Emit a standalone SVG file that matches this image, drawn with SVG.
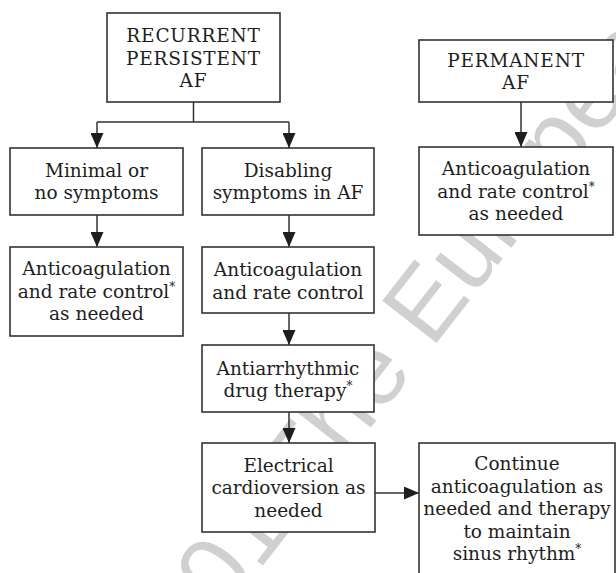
<svg xmlns="http://www.w3.org/2000/svg" width="616" height="573" viewBox="0 0 616 573">
<style>
.box{fill:#fff;stroke:#333;stroke-width:1.6}
.t{font-family:"DejaVu Serif","Liberation Serif",serif;font-size:18.5px;fill:#1e1e1e;text-anchor:middle}
.cap{letter-spacing:0.8px}
.sup{font-size:12px}
.ln{fill:none;stroke:#333;stroke-width:1.5}
.wm{font-family:"Liberation Sans",Arial,sans-serif;font-size:100px;fill:#d0d0d0}
</style>
<defs>
<marker id="ah" viewBox="0 0 15 13" refX="15" refY="6.5" markerWidth="15" markerHeight="13" markerUnits="userSpaceOnUse" orient="auto">
<path d="M0,0 L15,6.5 L0,13 Z" fill="#1e1e1e"/>
</marker>
</defs>
<rect width="616" height="573" fill="#fff"/>
<text class="wm" transform="translate(93,783) rotate(-52)">© 2001 The European</text>
<g id="connectors">
<path class="ln" d="M193.5,102 V122 M97,122 H289"/>
<path class="ln" d="M97,122 V148" marker-end="url(#ah)"/>
<path class="ln" d="M289,122 V148" marker-end="url(#ah)"/>
<path class="ln" d="M97,215 V247" marker-end="url(#ah)"/>
<path class="ln" d="M289,215 V247" marker-end="url(#ah)"/>
<path class="ln" d="M289,313 V345" marker-end="url(#ah)"/>
<path class="ln" d="M289,412 V443" marker-end="url(#ah)"/>
<path class="ln" d="M375,493 H419" marker-end="url(#ah)"/>
<path class="ln" d="M521,102 V147" marker-end="url(#ah)"/>
</g>
<g id="recurrent">
<rect class="box" x="107" y="13" width="173" height="89"/>
<text class="t cap" x="193.5" y="42">RECURRENT</text>
<text class="t cap" x="193.5" y="64.5">PERSISTENT</text>
<text class="t cap" x="193.5" y="87">AF</text>
</g>
<g id="permanent">
<rect class="box" x="419" y="40" width="194" height="62"/>
<text class="t cap" x="516" y="66.5">PERMANENT</text>
<text class="t cap" x="516" y="89">AF</text>
</g>
<g id="minimal">
<rect class="box" x="10" y="148" width="173" height="67"/>
<text class="t" x="96.5" y="176.5">Minimal or</text>
<text class="t" x="96.5" y="199">no symptoms</text>
</g>
<g id="disabling">
<rect class="box" x="202" y="148" width="172" height="67"/>
<text class="t" x="288" y="176.5">Disabling</text>
<text class="t" x="288" y="199">symptoms in AF</text>
</g>
<g id="anticoag-left">
<rect class="box" x="10" y="247" width="173" height="89"/>
<text class="t" x="96.5" y="275">Anticoagulation</text>
<text class="t" x="96.5" y="297.5">and rate control<tspan class="sup" dy="-7">*</tspan></text>
<text class="t" x="96.5" y="320">as needed</text>
</g>
<g id="anticoag-right">
<rect class="box" x="419" y="147" width="194" height="88"/>
<text class="t" x="516" y="175">Anticoagulation</text>
<text class="t" x="516" y="197.5">and rate control<tspan class="sup" dy="-7">*</tspan></text>
<text class="t" x="516" y="220">as needed</text>
</g>
<g id="anticoag-mid">
<rect class="box" x="202" y="247" width="172" height="66"/>
<text class="t" x="288" y="276">Anticoagulation</text>
<text class="t" x="288" y="298.5">and rate control</text>
</g>
<g id="antiarrhythmic">
<rect class="box" x="202" y="345" width="172" height="67"/>
<text class="t" x="288" y="374.5">Antiarrhythmic</text>
<text class="t" x="288" y="397">drug therapy<tspan class="sup" dy="-7">*</tspan></text>
</g>
<g id="cardioversion">
<rect class="box" x="202" y="443" width="173" height="89"/>
<text class="t" x="288.5" y="471.5">Electrical</text>
<text class="t" x="288.5" y="494">cardioversion as</text>
<text class="t" x="288.5" y="516.5">needed</text>
</g>
<g id="continue">
<rect class="box" x="419" y="443" width="196" height="140"/>
<text class="t" x="517" y="470">Continue</text>
<text class="t" x="517" y="492.5">anticoagulation as</text>
<text class="t" x="517" y="515">needed and therapy</text>
<text class="t" x="517" y="537.5">to maintain</text>
<text class="t" x="517" y="560">sinus rhythm<tspan class="sup" dy="-7">*</tspan></text>
</g>
</svg>
